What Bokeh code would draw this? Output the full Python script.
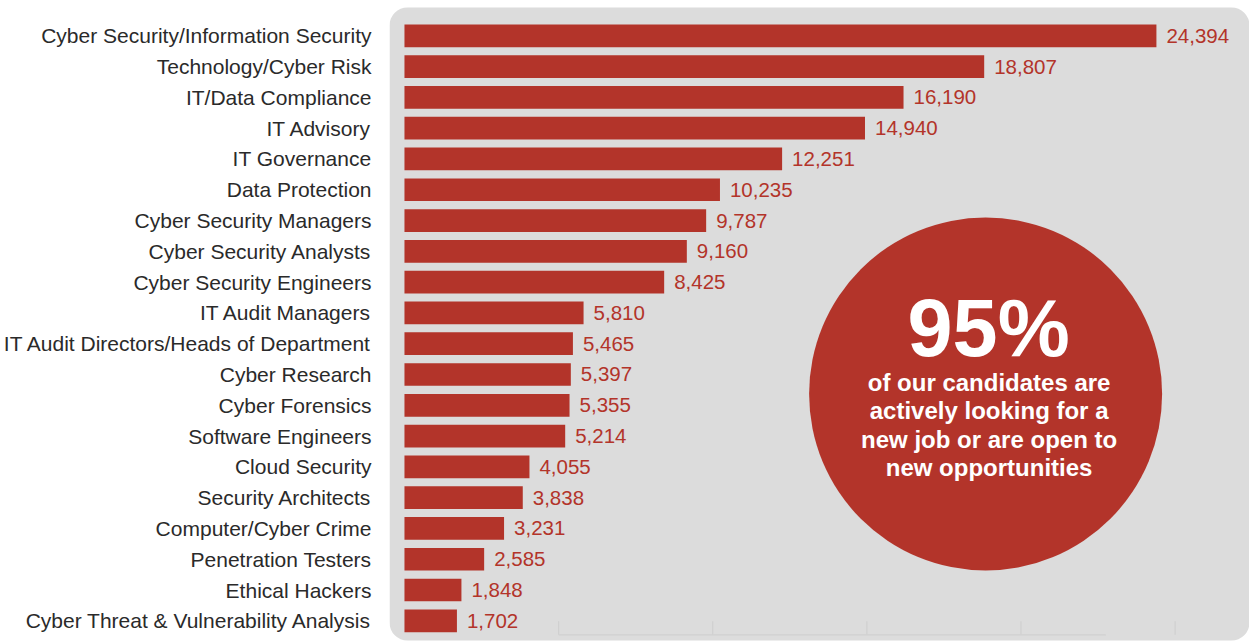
from bokeh.plotting import figure
from bokeh.models import ColumnDataSource, Range1d, FixedTicker
from bokeh.core.properties import value
from bokeh.embed import file_html
from bokeh.resources import INLINE

# ---- data ----
categories = [
    "Cyber Security/Information Security",
    "Technology/Cyber Risk",
    "IT/Data Compliance",
    "IT Advisory",
    "IT Governance",
    "Data Protection",
    "Cyber Security Managers",
    "Cyber Security Analysts",
    "Cyber Security Engineers",
    "IT Audit Managers",
    "IT Audit Directors/Heads of Department",
    "Cyber Research",
    "Cyber Forensics",
    "Software Engineers",
    "Cloud Security",
    "Security Architects",
    "Computer/Cyber Crime",
    "Penetration Testers",
    "Ethical Hackers",
    "Cyber Threat & Vulnerability Analysis",
]
values = [24394, 18807, 16190, 14940, 12251, 10235, 9787, 9160, 8425, 5810,
          5465, 5397, 5355, 5214, 4055, 3838, 3231, 2585, 1848, 1702]
grid_ticks = [5000, 10000, 15000, 20000, 25000]
headline = "95%"
sub_lines = ["of our candidates are", "actively looking for a",
             "new job or are open to", "new opportunities"]

# ---- style / layout ----
RED = "#b3342a"
PANEL = "#dcdcdc"
TEXT = "#2a2a2a"
FONT = "Liberation Sans"

W, H = 1249, 641
LEFT = 387                  # width reserved for category labels
FRAME_W = W - LEFT
XS = 0.030897               # px per unit on x
YS = 30.79                  # px per row
BAR_BASE = 402              # px of the bars' base
Y_TOP = 19 + 35.3 / YS

x_start = (LEFT - BAR_BASE) / XS
x_end = (W - BAR_BASE) / XS
y_end = Y_TOP
y_start = Y_TOP - H / YS

def px2x(px):
    return (px - BAR_BASE) / XS

def px2y(py):
    return Y_TOP - py / YS

BASE_FIX = 0.34  # em; compensates the svg baseline placement

n = len(categories)
ypos = [n - 1 - i for i in range(n)]
src = ColumnDataSource(dict(
    y=ypos, v=values, cat=categories,
    lab=[f"{v:,}" for v in values],
))

p = figure(width=W, height=H, output_backend="svg", toolbar_location=None,
           x_range=Range1d(x_start, x_end), y_range=Range1d(y_start, y_end),
           x_axis_location=None, min_border_left=LEFT, min_border_right=0,
           min_border_top=0, min_border_bottom=0)
p.background_fill_color = "white"
p.border_fill_color = "white"
p.outline_line_color = None
p.xgrid.visible = False
p.ygrid.visible = False

# panel with rounded corners
p.quad(left=x_start, right=x_end, bottom=px2y(640), top=px2y(7),
       fill_color=PANEL, line_color=None, border_radius=18)

# faint remnants of the axis at the bottom
yb0, yb1 = px2y(620.7), px2y(634.3)
p.segment(x0=grid_ticks, x1=grid_ticks, y0=[yb0] * len(grid_ticks),
          y1=[yb1] * len(grid_ticks), line_color="#d0d0d0", line_width=1.2)
p.segment(x0=[grid_ticks[0]], x1=[px2x(1105)], y0=[yb1], y1=[yb1],
          line_color="#d0d0d0", line_width=1.2)

# bars
p.hbar(y="y", left=0, right="v", height=0.737, source=src,
       fill_color=RED, line_color=None)
p.text(x="v", y="y", text="lab", source=src, x_offset=10,
       text_baseline="middle", text_align="left", text_color=RED,
       text_font=value(FONT), text_font_size="20.5px")

# category labels on the y axis
ax = p.yaxis[0]
ax.ticker = FixedTicker(ticks=ypos)
ax.major_label_overrides = {y: c for y, c in zip(ypos, categories)}
ax.axis_line_color = None
ax.major_tick_line_color = None
ax.minor_tick_line_color = None
ax.major_tick_in = 0
ax.major_tick_out = 0
ax.major_label_standoff = 18
ax.major_label_text_font = FONT
ax.major_label_text_font_size = "21px"
ax.major_label_text_color = TEXT

# big circle callout
p.scatter(x=[px2x(984.5)], y=[px2y(393.5)], size=353, marker="circle",
          fill_color=RED, line_color=None)
p.text(x=[px2x(987.5)], y=[px2y(355 - BASE_FIX * 81)], text=[headline],
       text_align="center", text_baseline="alphabetic", text_color="white",
       text_font=value(FONT), text_font_style="bold", text_font_size="81px")
base_y = [390, 418.5, 447, 475.5]
p.text(x=[px2x(988)] * len(sub_lines),
       y=[px2y(b - BASE_FIX * 24) for b in base_y],
       text=sub_lines, text_align="center", text_baseline="alphabetic",
       text_color="white", text_font=value(FONT), text_font_style="bold",
       text_font_size="24px")

open("out.html", "w").write(file_html(p, INLINE))
